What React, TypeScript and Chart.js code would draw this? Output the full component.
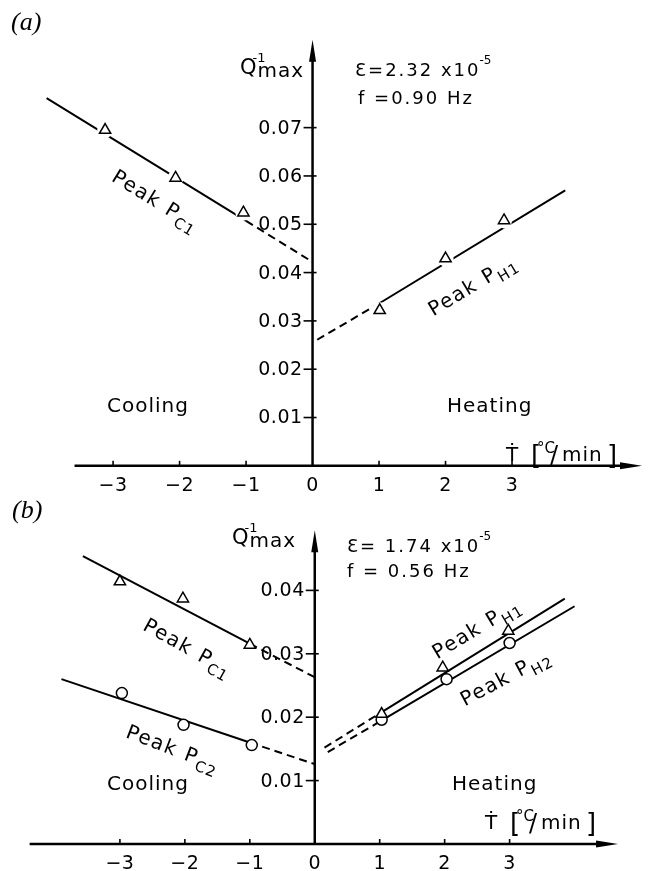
import React, { useEffect, useRef } from "react";
import { Chart, registerables } from "chart.js";
Chart.register(...registerables);

// ---------- shared tick labels ----------
const X_TICKS = [-3, -2, -1, 0, 1, 2, 3];
const X_TICK_LABELS = ["\u22123", "\u22122", "\u22121", "0", "1", "2", "3"];

// ---------- panel (a) ----------
const A_Y_TICKS = [0.01, 0.02, 0.03, 0.04, 0.05, 0.06, 0.07];
const A_Y_TICK_LABELS = ["0.01", "0.02", "0.03", "0.04", "0.05", "0.06", "0.07"];
const A_PC1_X = [-3.12, -2.06, -1.04];
const A_PC1_Y = [0.0695, 0.0596, 0.0524];
const A_PH1_X = [1.01, 2.0, 2.88];
const A_PH1_Y = [0.0322, 0.0429, 0.0508];
const A_FIT_C1_SOLID_X = [-4.0, -1.0];
const A_FIT_C1_SOLID_Y = [0.0761, 0.0507];
const A_FIT_C1_DASH_X = [-1.0, 0.0];
const A_FIT_C1_DASH_Y = [0.0507, 0.0422];
const A_FIT_H1_DASH_X = [0.07, 1.0];
const A_FIT_H1_DASH_Y = [0.0261, 0.0336];
const A_FIT_H1_SOLID_X = [1.0, 3.8];
const A_FIT_H1_SOLID_Y = [0.0336, 0.057];

// ---------- panel (b) ----------
const B_Y_TICKS = [0.01, 0.02, 0.03, 0.04];
const B_Y_TICK_LABELS = ["0.01", "0.02", "0.03", "0.04"];
const B_PC1_X = [-3.0, -2.03, -1.0];
const B_PC1_Y = [0.0414, 0.0387, 0.0314];
const B_PC2_X = [-2.97, -2.02, -0.97];
const B_PC2_Y = [0.0238, 0.0188, 0.0156];
const B_PH1_X = [1.03, 1.97, 2.98];
const B_PH1_Y = [0.0205, 0.0278, 0.0336];
const B_PH2_X = [1.03, 2.03, 3.0];
const B_PH2_Y = [0.0196, 0.026, 0.0317];
const B_FIT_C1_SOLID_X = [-3.57, -1.0];
const B_FIT_C1_SOLID_Y = [0.0454, 0.0316];
const B_FIT_C1_DASH_X = [-1.0, 0.0];
const B_FIT_C1_DASH_Y = [0.0316, 0.0263];
const B_FIT_C2_SOLID_X = [-3.9, -1.0];
const B_FIT_C2_SOLID_Y = [0.026, 0.016];
const B_FIT_C2_DASH_X = [-1.0, 0.0];
const B_FIT_C2_DASH_Y = [0.016, 0.0126];
const B_FIT_H1_DASH_X = [0.15, 1.0];
const B_FIT_H1_DASH_Y = [0.0152, 0.0206];
const B_FIT_H1_SOLID_X = [1.0, 3.85];
const B_FIT_H1_SOLID_Y = [0.0206, 0.0387];
const B_FIT_H2_DASH_X = [0.2, 1.0];
const B_FIT_H2_DASH_Y = [0.0145, 0.0193];
const B_FIT_H2_SOLID_X = [1.0, 4.0];
const B_FIT_H2_SOLID_Y = [0.0193, 0.0375];

const FONT = '"DejaVu Sans", sans-serif';

const pts = (xs: number[], ys: number[]) => xs.map((x, i) => ({ x, y: ys[i] }));

const lineDs = (xs: number[], ys: number[], dashed: boolean) => ({
  data: pts(xs, ys),
  showLine: true,
  borderColor: "#000",
  borderWidth: 2,
  borderDash: dashed ? [8, 5] : [],
  pointRadius: 0,
  order: 3,
});

const markerDs = (xs: number[], ys: number[], style: string) => ({
  data: pts(xs, ys),
  showLine: false,
  pointStyle: style,
  pointRadius: style === "triangle" ? 6.5 : 5.5,
  pointBorderWidth: 1.5,
  pointBorderColor: "#000",
  pointBackgroundColor: "#fff",
  borderColor: "#000",
  backgroundColor: "#fff",
  order: 0,
});

const haloDs = (xs: number[], ys: number[]) => ({
  data: pts(xs, ys),
  showLine: false,
  pointStyle: "circle",
  pointRadius: 8,
  pointBorderWidth: 0,
  pointBackgroundColor: "#fff",
  borderColor: "#fff",
  backgroundColor: "#fff",
  order: 1,
});

function txt(ctx: CanvasRenderingContext2D, s: string, x: number, y: number, size: number, ls = 1.5, font = FONT) {
  ctx.font = `${size}px ${font}`;
  (ctx as any).letterSpacing = `${ls}px`;
  ctx.fillText(s, x, y);
  return ctx.measureText(s).width;
}

function drawPeak(ctx: CanvasRenderingContext2D, cx: number, cy: number, deg: number, sub: string) {
  ctx.save();
  ctx.translate(cx, cy);
  ctx.rotate((deg * Math.PI) / 180);
  ctx.textAlign = "left";
  ctx.textBaseline = "alphabetic";
  ctx.font = `20px ${FONT}`;
  (ctx as any).letterSpacing = "1.5px";
  const w1 = ctx.measureText("Peak").width;
  const w2 = ctx.measureText("P").width;
  ctx.font = `15px ${FONT}`;
  (ctx as any).letterSpacing = "1px";
  const w3 = ctx.measureText(sub).width;
  const gap = 9;
  const total = w1 + gap + w2 + w3;
  let x = -total / 2;
  txt(ctx, "Peak", x, 7, 20, 1.5);
  x += w1 + gap;
  txt(ctx, "P", x, 7, 20, 1.5);
  x += w2;
  txt(ctx, sub, x, 13, 15, 1);
  ctx.restore();
}

function drawQ(ctx: CanvasRenderingContext2D, x: number, b: number) {
  ctx.textAlign = "left";
  ctx.textBaseline = "alphabetic";
  const qw = txt(ctx, "Q", x, b, 21, 0);
  txt(ctx, "-1", x + qw - 4, b - 12, 13, 0);
  txt(ctx, "max", x + qw + 1, b + 3, 20, 1);
}

function drawEps(ctx: CanvasRenderingContext2D, x: number, b: number, l1: string, fx: number, fb: number, l2: string) {
  ctx.textAlign = "left";
  ctx.textBaseline = "alphabetic";
  const w = txt(ctx, l1, x, b, 18, 2);
  txt(ctx, "-5", x + w - 1, b - 12, 12, 0);
  txt(ctx, l2, fx, fb, 18, 2);
}

function drawTdot(ctx: CanvasRenderingContext2D, x: number, b: number) {
  ctx.textAlign = "left";
  ctx.textBaseline = "alphabetic";
  txt(ctx, "\u1E6A", x, b, 20, 0);
  txt(ctx, "[", x + 25, b + 3, 26, 0);
  txt(ctx, "\u00B0C", x + 31, b - 8, 15, 0);
  txt(ctx, "/", x + 44, b + 2, 24, 0);
  txt(ctx, "min", x + 56, b, 20, 1);
  txt(ctx, "]", x + 101, b + 3, 26, 0);
}

type PanelCfg = {
  xFrom: number;
  xTo: number;
  yTo: number;
  yTicks: number[];
  yLabels: string[];
  extra: (ctx: CanvasRenderingContext2D) => void;
};

function decorPlugin(cfg: PanelCfg) {
  return {
    id: "decor",
    afterDraw(chart: any) {
      const ctx: CanvasRenderingContext2D = chart.ctx;
      const xs = chart.scales.x;
      const ys = chart.scales.y;
      const X = (v: number) => xs.getPixelForValue(v);
      const Y = (v: number) => ys.getPixelForValue(v);
      const x0 = X(0);
      const y0 = Y(0);
      ctx.save();
      ctx.strokeStyle = "#000";
      ctx.fillStyle = "#000";
      ctx.setLineDash([]);
      ctx.lineCap = "butt";
      ctx.lineWidth = 2.5;
      const xEnd = X(cfg.xTo);
      const yEnd = Y(cfg.yTo);
      ctx.beginPath();
      ctx.moveTo(X(cfg.xFrom), y0);
      ctx.lineTo(xEnd - 14, y0);
      ctx.stroke();
      ctx.beginPath();
      ctx.moveTo(x0, y0 + 1);
      ctx.lineTo(x0, yEnd + 14);
      ctx.stroke();
      ctx.beginPath();
      ctx.moveTo(xEnd, y0);
      ctx.lineTo(xEnd - 22, y0 - 3.5);
      ctx.lineTo(xEnd - 22, y0 + 3.5);
      ctx.closePath();
      ctx.fill();
      ctx.beginPath();
      ctx.moveTo(x0, yEnd);
      ctx.lineTo(x0 - 3.5, yEnd + 22);
      ctx.lineTo(x0 + 3.5, yEnd + 22);
      ctx.closePath();
      ctx.fill();
      ctx.lineWidth = 1.6;
      for (const t of cfg.yTicks) {
        const py = Y(t);
        ctx.beginPath();
        ctx.moveTo(x0 - 9, py);
        ctx.lineTo(x0 + 4, py);
        ctx.stroke();
      }
      for (const t of X_TICKS) {
        if (t === 0) continue;
        const px = X(t);
        ctx.beginPath();
        ctx.moveTo(px, y0 - 5);
        ctx.lineTo(px, y0);
        ctx.stroke();
      }
      ctx.textAlign = "right";
      ctx.textBaseline = "middle";
      cfg.yTicks.forEach((t, i) => txt(ctx, cfg.yLabels[i], x0 - 10, Y(t) + 1, 19, 0.5));
      ctx.textAlign = "center";
      ctx.textBaseline = "top";
      X_TICKS.forEach((t, i) => txt(ctx, X_TICK_LABELS[i], X(t), y0 + 11, 19, 0.5));
      cfg.extra(ctx);
      ctx.restore();
    },
  };
}

function baseOptions(pad: any, xmin: number, xmax: number, ymin: number, ymax: number) {
  return {
    animation: false,
    responsive: false,
    events: [],
    layout: { padding: pad },
    plugins: { legend: { display: false }, tooltip: { enabled: false } },
    scales: {
      x: { type: "linear", min: xmin, max: xmax, display: false },
      y: { type: "linear", min: ymin, max: ymax, display: false },
    },
  };
}

export default function App() {
  const refA = useRef<HTMLCanvasElement>(null);
  const refB = useRef<HTMLCanvasElement>(null);

  useEffect(() => {
    const chartA = new Chart(refA.current as HTMLCanvasElement, {
      type: "scatter",
      data: {
        datasets: [
          markerDs(A_PC1_X, A_PC1_Y, "triangle"),
          markerDs(A_PH1_X, A_PH1_Y, "triangle"),
          haloDs(A_PC1_X, A_PC1_Y),
          haloDs(A_PH1_X, A_PH1_Y),
          lineDs(A_FIT_C1_SOLID_X, A_FIT_C1_SOLID_Y, false),
          lineDs(A_FIT_C1_DASH_X, A_FIT_C1_DASH_Y, true),
          lineDs(A_FIT_H1_DASH_X, A_FIT_H1_DASH_Y, true),
          lineDs(A_FIT_H1_SOLID_X, A_FIT_H1_SOLID_Y, false),
        ] as any,
      },
      options: baseOptions({ left: 20, right: 3, top: 31, bottom: 3 }, -4.4, 5.0, -0.005, 0.09) as any,
      plugins: [
        decorPlugin({
          xFrom: -3.58,
          xTo: 4.955,
          yTo: 0.0882,
          yTicks: A_Y_TICKS,
          yLabels: A_Y_TICK_LABELS,
          extra: (ctx) => {
            ctx.textAlign = "left";
            ctx.textBaseline = "alphabetic";
            ctx.font = `italic 26px "Liberation Serif", serif`;
            (ctx as any).letterSpacing = "0px";
            ctx.fillText("(a)", 11, 30);
            drawQ(ctx, 240, 74);
            drawEps(ctx, 355, 76, "\u0190=2.32 x10", 358, 104, "f =0.90 Hz");
            drawPeak(ctx, 156, 200, 31.5, "C1");
            drawPeak(ctx, 472, 285, -31, "H1");
            ctx.textAlign = "left";
            ctx.textBaseline = "alphabetic";
            txt(ctx, "Cooling", 107, 412, 20, 1);
            txt(ctx, "Heating", 447, 412, 20, 1);
            drawTdot(ctx, 506, 461);
          },
        }),
      ],
    });

    const chartB = new Chart(refB.current as HTMLCanvasElement, {
      type: "scatter",
      data: {
        datasets: [
          markerDs(B_PC1_X, B_PC1_Y, "triangle"),
          markerDs(B_PC2_X, B_PC2_Y, "circle"),
          markerDs(B_PH1_X, B_PH1_Y, "triangle"),
          markerDs(B_PH2_X, B_PH2_Y, "circle"),
          lineDs(B_FIT_C1_SOLID_X, B_FIT_C1_SOLID_Y, false),
          lineDs(B_FIT_C1_DASH_X, B_FIT_C1_DASH_Y, true),
          lineDs(B_FIT_C2_SOLID_X, B_FIT_C2_SOLID_Y, false),
          lineDs(B_FIT_C2_DASH_X, B_FIT_C2_DASH_Y, true),
          lineDs(B_FIT_H1_DASH_X, B_FIT_H1_DASH_Y, true),
          lineDs(B_FIT_H1_SOLID_X, B_FIT_H1_SOLID_Y, false),
          lineDs(B_FIT_H2_DASH_X, B_FIT_H2_DASH_Y, true),
          lineDs(B_FIT_H2_SOLID_X, B_FIT_H2_SOLID_Y, false),
        ] as any,
      },
      options: baseOptions({ left: 16, right: 20, top: 29, bottom: 3 }, -4.6, 4.9, -0.003, 0.05) as any,
      plugins: [
        decorPlugin({
          xFrom: -4.39,
          xTo: 4.67,
          yTo: 0.0495,
          yTicks: B_Y_TICKS,
          yLabels: B_Y_TICK_LABELS,
          extra: (ctx) => {
            ctx.textAlign = "left";
            ctx.textBaseline = "alphabetic";
            ctx.font = `italic 26px "Liberation Serif", serif`;
            (ctx as any).letterSpacing = "0px";
            ctx.fillText("(b)", 12, 20);
            drawQ(ctx, 232, 46);
            drawEps(ctx, 347, 54, "\u0190= 1.74 x10", 347, 79, "f = 0.56 Hz");
            drawPeak(ctx, 188, 149, 29, "C1");
            drawPeak(ctx, 173, 250, 21, "C2");
            drawPeak(ctx, 476, 130, -31, "H1");
            drawPeak(ctx, 505, 179, -28, "H2");
            ctx.textAlign = "left";
            ctx.textBaseline = "alphabetic";
            txt(ctx, "Cooling", 107, 292, 20, 1);
            txt(ctx, "Heating", 452, 292, 20, 1);
            drawTdot(ctx, 485, 331);
          },
        }),
      ],
    });

    return () => {
      chartA.destroy();
      chartB.destroy();
    };
  }, []);

  return (
    <div style={{ position: "absolute", left: 0, top: 0, width: 653, height: 871, background: "#fff" }}>
      <canvas ref={refA} width={653} height={498} style={{ position: "absolute", left: 0, top: 0, width: 653, height: 498 }} />
      <canvas ref={refB} width={653} height={373} style={{ position: "absolute", left: 0, top: 498, width: 653, height: 373 }} />
    </div>
  );
}
